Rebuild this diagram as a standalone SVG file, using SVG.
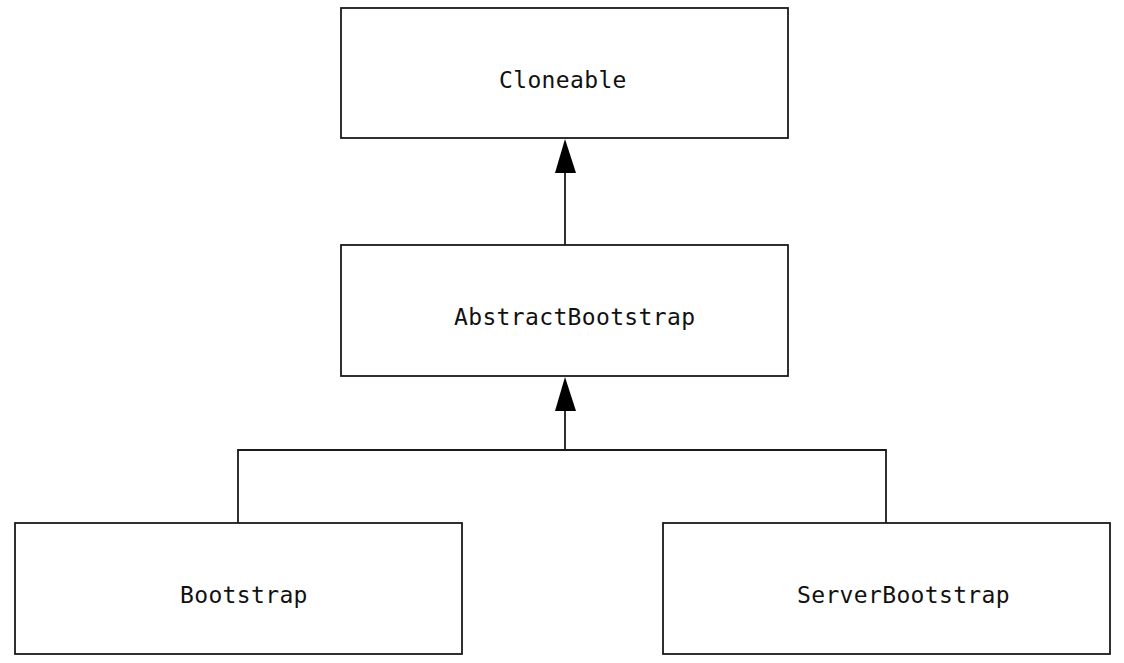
<svg xmlns="http://www.w3.org/2000/svg" width="1124" height="663" viewBox="0 0 1124 663">
<defs>
<style>
.box{fill:#fff;stroke:#1a1a1a;stroke-width:1.8}
.lbl{font-family:"DejaVu Sans Mono","Liberation Mono",monospace;font-size:23px;letter-spacing:0.35px;fill:#111}
.edge{fill:none;stroke:#1a1a1a;stroke-width:1.8}
.head{fill:#000;stroke:none}
</style>
</defs>
<rect width="1124" height="663" fill="#fff"/>
<g id="connectors">
<path class="edge" d="M565 172 V245"/>
<polygon class="head" points="565,139 555,173 576,173"/>
<path class="edge" d="M565 410 V450 M238 523 V450 H886 V523"/>
<polygon class="head" points="565,377 555,411 576,411"/>
</g>
<g id="node-cloneable">
<rect class="box" x="341" y="8" width="447" height="130"/>
<text class="lbl" x="499" y="88">Cloneable</text>
</g>
<g id="node-abstractbootstrap">
<rect class="box" x="341" y="245" width="447" height="131"/>
<text class="lbl" x="454" y="325">AbstractBootstrap</text>
</g>
<g id="node-bootstrap">
<rect class="box" x="15" y="523" width="447" height="131"/>
<text class="lbl" x="180" y="603">Bootstrap</text>
</g>
<g id="node-serverbootstrap">
<rect class="box" x="663" y="523" width="447" height="131"/>
<text class="lbl" x="797" y="603">ServerBootstrap</text>
</g>
</svg>
